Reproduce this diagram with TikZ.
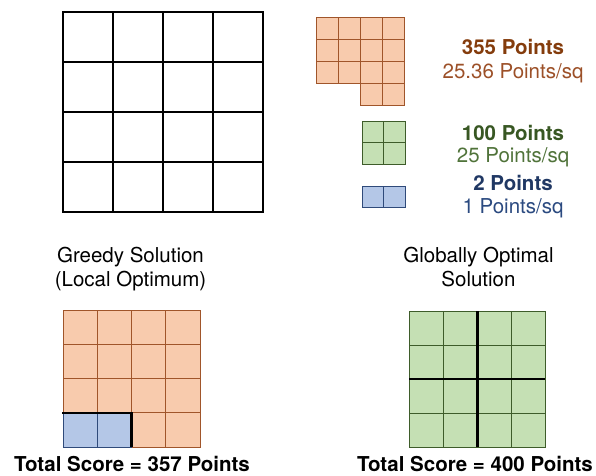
\documentclass[tikz,border=0pt]{standalone}
\usepackage{fontspec}
\setmainfont{TeX Gyre Heros}

\definecolor{naranjafondo}{HTML}{F8CBAD}
\definecolor{naranjaborde}{HTML}{A0552A}
\definecolor{naranjatexto}{HTML}{843C0C}
\definecolor{naranjasuave}{HTML}{9C5028}
\definecolor{verdefondo}{HTML}{C5E0B4}
\definecolor{verdeborde}{HTML}{3E5C2A}
\definecolor{verdetexto}{HTML}{385723}
\definecolor{verdesuave}{HTML}{50733A}
\definecolor{azulfondo}{HTML}{B4C7E7}
\definecolor{azulborde}{HTML}{2F4A7A}
\definecolor{azultexto}{HTML}{203864}
\definecolor{azulsuave}{HTML}{2B4A80}

\tikzset{
  naranja/.style={fill=naranjafondo, draw=naranjaborde, line width=1pt},
  verde/.style={fill=verdefondo, draw=verdeborde, line width=1pt},
  azul/.style={fill=azulfondo, draw=azulborde, line width=1pt},
  vacia/.style={draw=black, line width=1.5pt},
  corte/.style={draw=black, line width=2.8pt},
  texto/.style={inner sep=0pt, font=\fontsize{20.5}{24}\selectfont},
}

\begin{document}
\begin{tikzpicture}[x=1pt, y=-1pt]
\useasboundingbox (0,0) rectangle (596,475);

% Tablero vacio
\foreach \i in {0,...,3}
  \foreach \j in {0,...,3}
    \draw[vacia] (63+50*\i,12+50*\j) rectangle +(50,50);

% Pieza naranja (16 cuadros)
\foreach \i in {0,...,3}
  \foreach \j in {0,...,2}
    \draw[naranja] (316+22*\i,17+22*\j) rectangle +(22,22);
\foreach \i in {2,3}
  \draw[naranja] (316+22*\i,83) rectangle +(22,22);
\node [texto, anchor=base, text=naranjatexto, font=\fontsize{20.5}{24}\selectfont\bfseries] (p355) at (513,54) {355 Points};
\node [texto, anchor=base, text=naranjasuave] (r355) at (513,78) {25.36 Points/sq};

% Pieza verde (4 cuadros)
\foreach \i in {0,1}
  \foreach \j in {0,1}
    \draw[verde] (362+21.5*\i,121+21.5*\j) rectangle +(21.5,21.5);
\node [texto, anchor=base, text=verdetexto, font=\fontsize{20.5}{24}\selectfont\bfseries] (p100) at (513,140) {100 Points};
\node [texto, anchor=base, text=verdesuave] (r100) at (513,162) {25 Points/sq};

% Pieza azul (2 cuadros)
\foreach \i in {0,1}
  \draw[azul] (362+21.5*\i,186) rectangle +(21.5,21.5);
\node [texto, anchor=base, text=azultexto, font=\fontsize{20.5}{24}\selectfont\bfseries] (p2) at (513,190) {2 Points};
\node [texto, anchor=base, text=azulsuave] (r2) at (513,213) {1 Points/sq};

% Titulos
\node [texto, align=center] (greedy) at (130.5,269.5) {Greedy Solution\\(Local Optimum)};
\node [texto, align=center] (optimo) at (478.5,267) {Globally Optimal\\Solution};

% Solucion voraz
\foreach \i in {0,...,3}
  \foreach \j in {0,...,3}
    \draw[naranja] (63+34.25*\i,310+34.25*\j) rectangle +(34.25,34.25);
\foreach \i in {0,1}
  \draw[azul] (63+34.25*\i,412.75) rectangle +(34.25,34.25);
\draw[corte] (62,413) -- (131.5,413) -- (131.5,447);
\node [texto, anchor=base, font=\fontsize{20.5}{24}\selectfont\bfseries] (total1) at (132,471) {Total Score = 357 Points};

% Solucion optima
\foreach \i in {0,...,3}
  \foreach \j in {0,...,3}
    \draw[verde] (409.3+34*\i,311+34*\j) rectangle +(34,34);
\draw[corte] (477.3,311) -- (477.3,447);
\draw[corte] (409.3,379) -- (545.3,379);
\node [texto, anchor=base, font=\fontsize{20.5}{24}\selectfont\bfseries] (total2) at (475,471) {Total Score = 400 Points};
\end{tikzpicture}
\end{document}
